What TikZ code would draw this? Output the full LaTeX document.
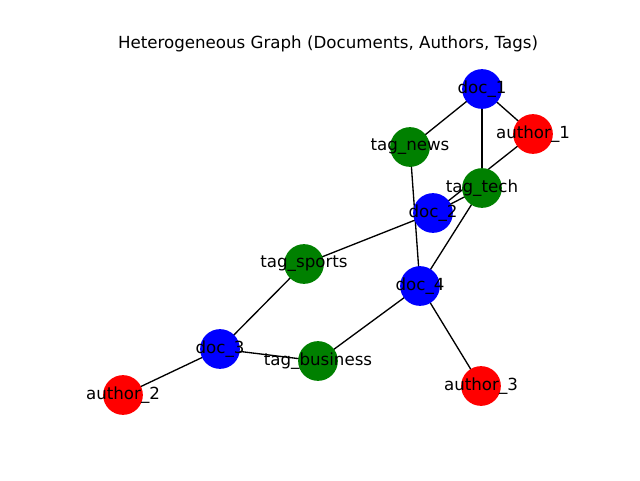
\documentclass[tikz,border=0pt]{standalone}
\usepackage{fontspec}
\setmainfont{DejaVu Sans}
\usetikzlibrary{backgrounds}
\definecolor{mplgreen}{RGB}{0,128,0}
\tikzset{
  vert/.style={circle,inner sep=0pt,minimum size=29.8pt,draw=none},
  doc/.style={vert,fill=blue},
  author/.style={vert,fill=red},
  tag/.style={vert,fill=mplgreen},
  lbl/.style={inner sep=0pt,font=\fontsize{12.5}{15}\selectfont,text=black},
  edge/.style={draw=black,line width=1pt}
}
\begin{document}
\begin{tikzpicture}[x=0.75pt,y=-0.75pt]
\useasboundingbox (0,0) rectangle (640,480);
\node[lbl] (title) at (328,44) {Heterogeneous Graph (Documents, Authors, Tags)};
\node[doc] (d1) at (482,89) {};
\node[author] (a1) at (533,134) {};
\node[tag] (tn) at (410,147) {};
\node[tag] (tt) at (482,188) {};
\node[doc] (d2) at (433,213) {};
\node[tag] (ts) at (304,264) {};
\node[doc] (d4) at (420,286) {};
\node[doc] (d3) at (220,349) {};
\node[tag] (tb) at (318,361) {};
\node[author] (a2) at (123,395) {};
\node[author] (a3) at (481,386) {};
\begin{scope}[on background layer]
\draw[edge] (d1.center) -- (tn.center);
\draw[edge] (d1.center) -- (a1.center);
\draw[edge] (d1.center) -- (tt.center);
\draw[edge] (a1.center) -- (d2.center);
\draw[edge] (d2.center) -- (tt.center);
\draw[edge] (d2.center) -- (ts.center);
\draw[edge] (tn.center) -- (d4.center);
\draw[edge] (tt.center) -- (d4.center);
\draw[edge] (d4.center) -- (tb.center);
\draw[edge] (d4.center) -- (a3.center);
\draw[edge] (d3.center) -- (ts.center);
\draw[edge] (d3.center) -- (tb.center);
\draw[edge] (d3.center) -- (a2.center);
\end{scope}
\node[lbl] (d1l) at (d1) {doc\_1};
\node[lbl] (a1l) at (a1) {author\_1};
\node[lbl] (tnl) at (tn) {tag\_news};
\node[lbl] (ttl) at (tt) {tag\_tech};
\node[lbl] (d2l) at (d2) {doc\_2};
\node[lbl] (tsl) at (ts) {tag\_sports};
\node[lbl] (d4l) at (d4) {doc\_4};
\node[lbl] (d3l) at (d3) {doc\_3};
\node[lbl] (tbl) at (tb) {tag\_business};
\node[lbl] (a2l) at (a2) {author\_2};
\node[lbl] (a3l) at (a3) {author\_3};
\end{tikzpicture}
\end{document}
